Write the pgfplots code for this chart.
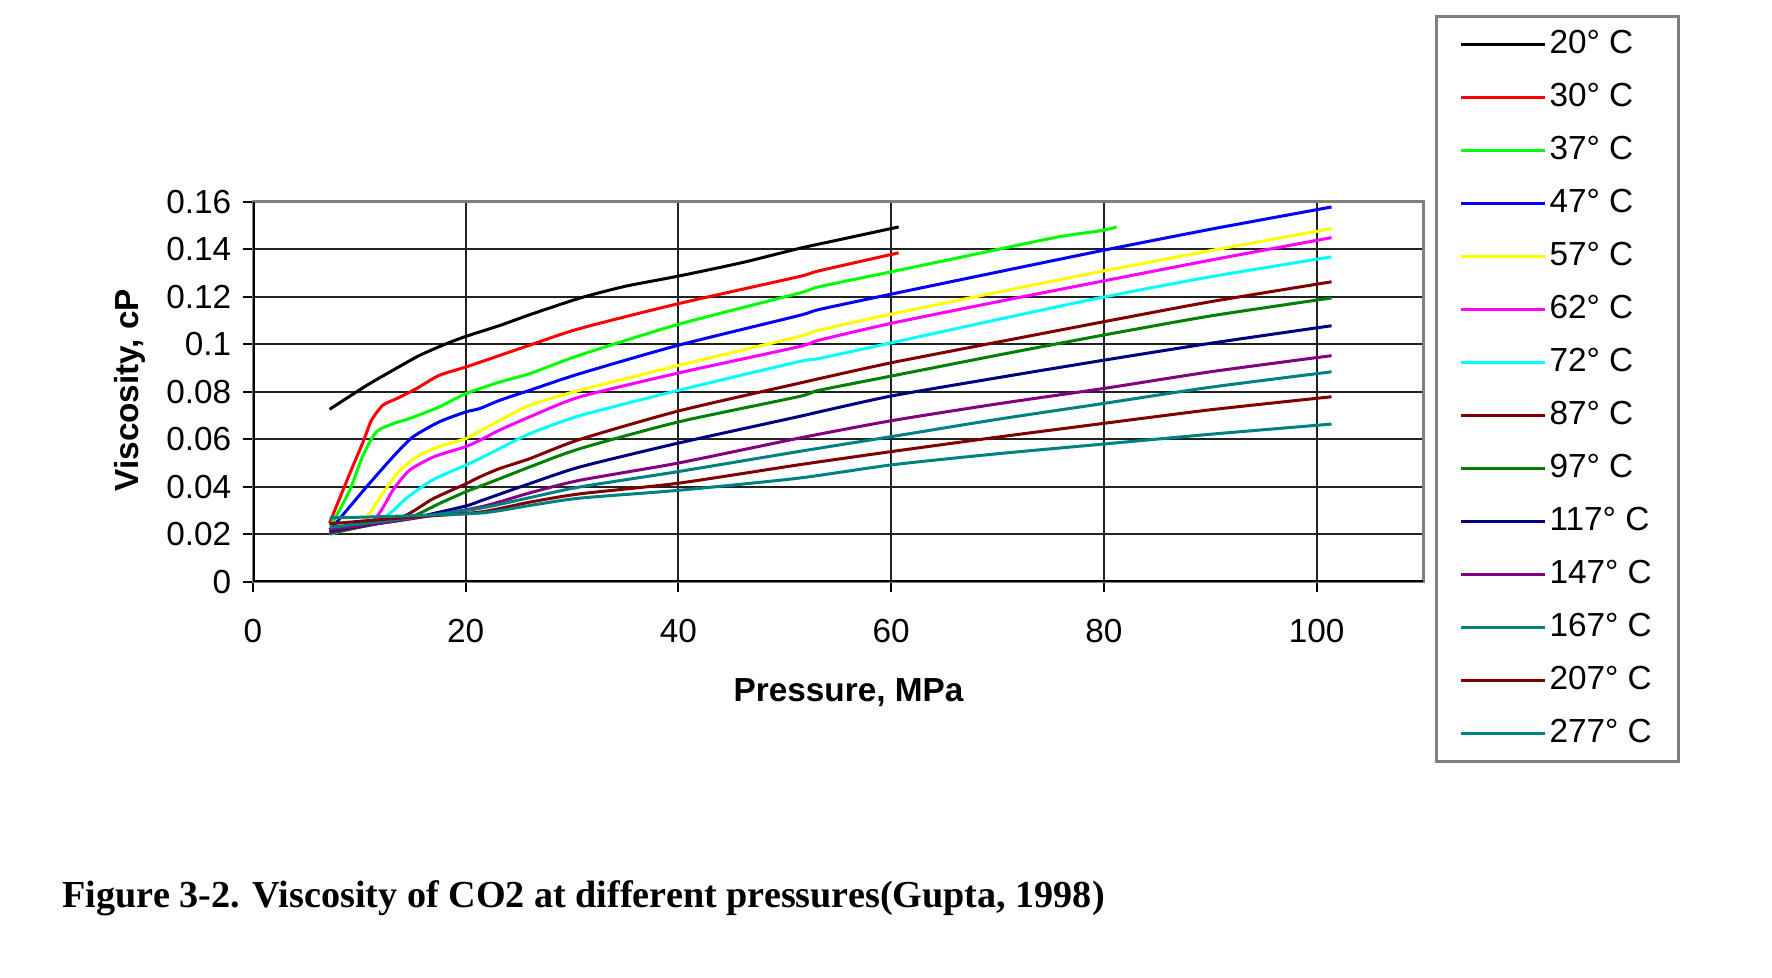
\documentclass[border=0pt]{standalone}
\usepackage{pgfplots}
\pgfplotsset{compat=1.18}
\usepackage{fontspec}
\setmainfont{Liberation Sans}
\newfontfamily\capfont{Liberation Serif}
\definecolor{c20}{HTML}{000000}
\definecolor{c30}{HTML}{FF0000}
\definecolor{c37}{HTML}{00FF00}
\definecolor{c47}{HTML}{0000FF}
\definecolor{c57}{HTML}{FFFF00}
\definecolor{c62}{HTML}{FF00FF}
\definecolor{c72}{HTML}{00FFFF}
\definecolor{c87}{HTML}{800000}
\definecolor{c97}{HTML}{008000}
\definecolor{c117}{HTML}{000080}
\definecolor{c147}{HTML}{800080}
\definecolor{c167}{HTML}{008080}
\definecolor{gridc}{HTML}{222222}
\definecolor{boxc}{HTML}{7F7F7F}
\begin{document}
\begin{tikzpicture}
\useasboundingbox (0,0) rectangle (531.6bp,293.4bp);
\begin{axis}[
  at={(75.9bp,118.8bp)}, anchor=south west,
  scale only axis, width=351bp, height=114bp,
  xmin=0, xmax=110, ymin=0, ymax=0.16,
  xtick={0,20,40,60,80,100},
  ytick={0,0.02,0.04,0.06,0.08,0.1,0.12,0.14,0.16},
  yticklabels={0,0.02,0.04,0.06,0.08,0.1,0.12,0.14,0.16},
  scaled y ticks=false,
  xtick pos=left, ytick pos=left,
  tick align=outside, major tick length=3bp,
  tick style={black, line width=0.6bp},
  /pgf/number format/assume math mode=true,
  tick label style={font=\fontsize{10bp}{12bp}\selectfont},
  xticklabel style={yshift=-4.5bp},
  grid=major, major grid style={gridc, line width=0.6bp},
  axis line style={boxc, line width=0.9bp},
  xlabel={\bfseries Pressure, MPa},
  ylabel={\bfseries Viscosity, cP},
  label style={font=\fontsize{10bp}{12bp}\selectfont},
  xlabel style={at={(axis description cs:0.509,-0.29)}, anchor=center},
  ylabel style={at={(axis description cs:-0.105,0.505)}, anchor=center, rotate=0},
  legend style={at={(axis description cs:1.0103,1.492)}, anchor=north west,
    draw=boxc, line width=0.9bp,
    font=\fontsize{10bp}{12bp}\selectfont,
    inner xsep=7bp, inner ysep=2.2bp, column sep=0pt, row sep=3.4bp,
    nodes={inner sep=1bp, text height=8bp, text depth=2.5bp}},
  legend cell align=left,
  legend image code/.code={\draw[#1, line width=0.9bp] (0bp,0bp) -- (25bp,0bp);},
  every axis plot/.append style={line width=0.9bp, smooth, tension=0.4},
]
\draw[black, line width=0.9bp] (axis cs:0,0) -- (axis cs:110,0);
\draw[black, line width=0.9bp] (axis cs:0,0) -- (axis cs:0,0.16);
% 20 C
\addplot[c20] coordinates {(7.2,0.0727)(10.7,0.0828)(13.8,0.0908)(15.7,0.0955)(18,0.1000)(20,0.1034)(23.2,0.1080)(26,0.1125)(30.7,0.1195)(35,0.1245)(40,0.1288)(46,0.1345)(51.3,0.1404)(55,0.1440)(60.7,0.1495)};
\addlegendentry{20° C}
% 30 C
\addplot[c30] coordinates {(7.2,0.0248)(9.1,0.0457)(10.35,0.059)(11.13,0.068)(12.2,0.0744)(13.5,0.0772)(15.35,0.0814)(17.5,0.087)(20,0.0905)(23.2,0.0954)(26,0.0997)(30.7,0.1067)(40,0.1172)(51.25,0.1285)(53.2,0.131)(60.7,0.1386)};
\addlegendentry{30° C}
% 37 C
\addplot[c37] coordinates {(7.2,0.024)(7.6,0.026)(9.1,0.0387)(10.35,0.0534)(11.6,0.0632)(13.2,0.0667)(14.7,0.0688)(17.5,0.0737)(20,0.0793)(23.2,0.0842)(26,0.0877)(30.7,0.0955)(40,0.1085)(51.25,0.1215)(53.2,0.1243)(60,0.1306)(70,0.1400)(75.7,0.1453)(79.8,0.148)(81.2,0.1495)};
\addlegendentry{37° C}
% 47 C
\addplot[c47] coordinates {(7.2,0.022)(7.8,0.0248)(10.66,0.040)(13.16,0.0527)(15.04,0.0611)(17.5,0.0674)(20,0.0716)(21.3,0.073)(23.2,0.0765)(26,0.0807)(30.7,0.0877)(40,0.0997)(51.25,0.1121)(53.2,0.1147)(60,0.1212)(70,0.1305)(80,0.1397)(90,0.1485)(101.4,0.1579)};
\addlegendentry{47° C}
% 57 C
\addplot[c57] coordinates {(7.2,0.021)(10.35,0.026)(12.2,0.0373)(13.8,0.047)(15.67,0.0534)(17.5,0.057)(20,0.0604)(21.3,0.0635)(23.2,0.068)(26,0.0744)(30.7,0.0807)(40,0.0912)(51.25,0.1033)(53.2,0.106)(60,0.1128)(70,0.1220)(80,0.131)(90,0.1395)(101.4,0.1488)};
\addlegendentry{57° C}
% 62 C
\addplot[c62] coordinates {(7.2,0.0205)(11.3,0.026)(13.16,0.0387)(14.7,0.047)(17,0.0527)(20,0.057)(21.3,0.0596)(23.2,0.064)(26,0.0695)(30.7,0.0779)(40,0.088)(51.25,0.099)(53.2,0.1018)(60,0.1089)(70,0.1180)(80,0.1268)(90,0.1355)(101.4,0.145)};
\addlegendentry{62° C}
% 72 C
\addplot[c72] coordinates {(7.2,0.020)(12.2,0.0269)(14.4,0.0352)(16.9,0.043)(20,0.0492)(21.3,0.0519)(23.2,0.0562)(26,0.0624)(30.7,0.0700)(40,0.0807)(51.25,0.0927)(53.2,0.0941)(60,0.1007)(70,0.1105)(80,0.12)(90,0.1285)(101.4,0.1369)};
\addlegendentry{72° C}
% 87 C
\addplot[c87] coordinates {(7.2,0.0205)(13.8,0.027)(16.9,0.035)(20,0.0413)(21.3,0.0442)(23.2,0.0478)(26,0.0519)(30.7,0.0600)(40,0.072)(51.25,0.0836)(53.2,0.0856)(60,0.0923)(70,0.1010)(80,0.1096)(90,0.1180)(101.4,0.1264)};
\addlegendentry{87° C}
% 97 C
\addplot[c97] coordinates {(7.2,0.021)(14.5,0.027)(17.5,0.033)(20,0.038)(21.3,0.0402)(23.2,0.0435)(26,0.0484)(30.7,0.0561)(40,0.0674)(51.25,0.078)(53.2,0.0807)(60,0.0867)(70,0.0955)(80,0.104)(90,0.1120)(101.4,0.1196)};
\addlegendentry{97° C}
% 117 C
\addplot[c117] coordinates {(7.2,0.0215)(15,0.027)(20,0.032)(21.3,0.034)(23.2,0.037)(26,0.0414)(30.7,0.0484)(40,0.0585)(51.25,0.0696)(53.2,0.0716)(60,0.0783)(70,0.0860)(80,0.0934)(90,0.1005)(101.4,0.1079)};
\addlegendentry{117° C}
% 147 C
\addplot[c147] coordinates {(7.2,0.022)(14,0.026)(21.3,0.0315)(26,0.0375)(30.7,0.0428)(40,0.0501)(51.25,0.0605)(60,0.0679)(70,0.0750)(80,0.0815)(90,0.0885)(101.4,0.0953)};
\addlegendentry{147° C}
% 167 C
\addplot[c167] coordinates {(7.2,0.023)(14,0.0265)(21.3,0.031)(26,0.0355)(30.7,0.040)(40,0.0465)(51.25,0.0549)(60,0.0612)(70,0.0685)(80,0.0752)(90,0.0820)(101.4,0.0885)};
\addlegendentry{167° C}
% 207 C
\addplot[c87] coordinates {(7.2,0.0245)(14,0.027)(21.3,0.0294)(26,0.0336)(30.7,0.0371)(40,0.0416)(51.25,0.0493)(60,0.0549)(70,0.0610)(80,0.0668)(90,0.0725)(101.4,0.078)};
\addlegendentry{207° C}
% 277 C
\addplot[c167] coordinates {(7.2,0.027)(12,0.0275)(21.3,0.029)(26,0.0322)(30.7,0.0353)(40,0.0386)(51.25,0.0437)(60,0.0493)(70,0.0540)(80,0.0581)(90,0.0622)(101.4,0.0665)};
\addlegendentry{277° C}
\end{axis}
\node[anchor=base west, inner sep=0pt, font=\capfont\bfseries\fontsize{11.45bp}{13bp}\selectfont] at (18.6bp,21.3bp) {Figure 3-2. Viscosity of CO2 at different pressures(Gupta, 1998)};
\end{tikzpicture}
\end{document}
